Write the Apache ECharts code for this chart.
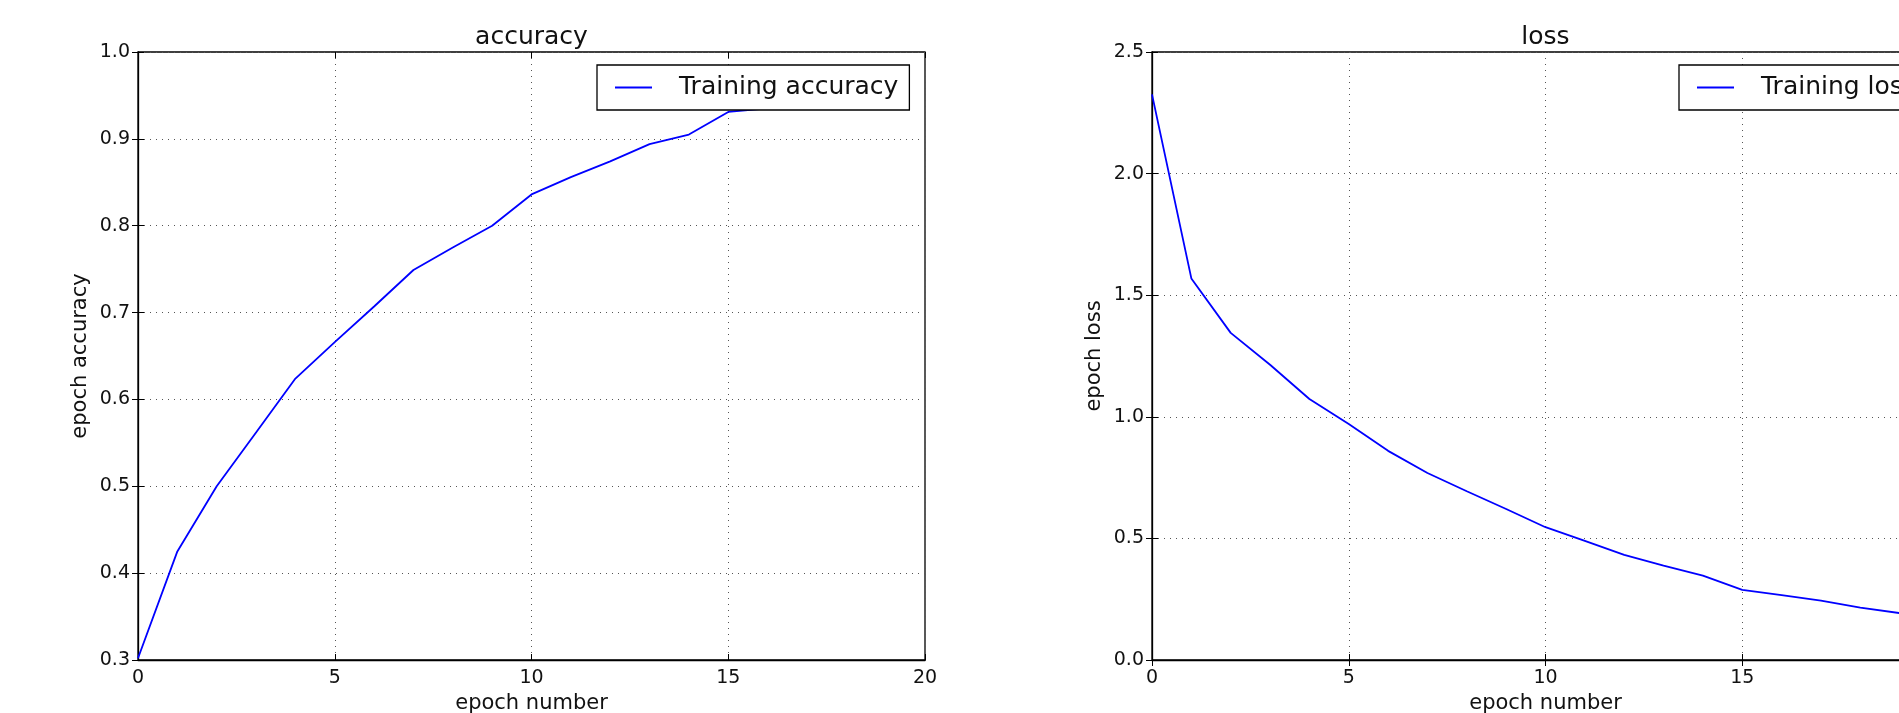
<!DOCTYPE html>
<html>
<head>
<meta charset="utf-8">
<script src="https://cdn.jsdelivr.net/npm/echarts@6/dist/echarts.min.js"></script>
<style>
html,body{margin:0;padding:0;background:#fff;}
#c{width:1899px;height:713px;}
</style>
</head>
<body>
<div id="c"></div>
<script>
// ---- data ----
var epochs = [0,1,2,3,4,5,6,7,8,9,10,11,12,13,14,15,16,17,18,19];
var accuracy = [0.302,0.425,0.500,0.562,0.624,0.666,0.707,0.749,0.775,0.800,0.836,0.856,0.874,0.894,0.905,0.931,0.935,0.945,0.952,0.960];
var loss = [2.326,1.569,1.345,1.214,1.073,0.970,0.860,0.769,0.694,0.621,0.546,0.490,0.432,0.388,0.347,0.288,0.267,0.244,0.215,0.193];
var titles = ['accuracy','loss'];
var yNames = ['epoch accuracy','epoch loss'];
var xName = 'epoch number';
var legendNames = ['Training accuracy','Training loss'];
var xTicks = {min:0, max:20, interval:5};
var accTicks = {min:0.3, max:1.0, interval:0.1};
var lossTicks = {min:0.0, max:2.5, interval:0.5};

var FONT = 'DejaVu Sans';
var TXT = '#111';

function pairs(xs, ys){ return xs.map(function(x,i){ return [x, ys[i]]; }); }

var grids = [
  {left:138, top:52, width:787, height:608},
  {left:1152, top:52, width:787, height:608}
];
grids.forEach(function(g){
  g.show = true; g.borderColor = '#000'; g.borderWidth = 1.3;
  g.backgroundColor = 'transparent'; g.containLabel = false; g.outerBoundsMode = 'none';
});

var gridLine = {show:true, lineStyle:{color:'#555', width:1, type:[1,5]}};
var tick = {show:true, inside:true, length:6, lineStyle:{color:'#000', width:1}};

function xMain(gi){
  return {type:'value', gridIndex:gi, position:'bottom', min:xTicks.min, max:xTicks.max, interval:xTicks.interval,
    name:xName, nameLocation:'middle', nameGap:33,
    nameTextStyle:{fontFamily:FONT, fontSize:21, color:TXT},
    axisLine:{show:true, lineStyle:{color:'#000', width:1.3}},
    axisTick:tick, splitLine:gridLine,
    axisLabel:{show:true, margin:9, fontFamily:FONT, fontSize:19, color:TXT, formatter:function(v){return String(Math.round(v));}}};
}
function xTop(gi){
  return {type:'value', gridIndex:gi, position:'top', min:xTicks.min, max:xTicks.max, interval:xTicks.interval,
    axisLine:{show:false}, axisTick:tick, splitLine:{show:false}, axisLabel:{show:false}};
}
function yMain(gi, t, nm){
  return {type:'value', gridIndex:gi, position:'left', min:t.min, max:t.max, interval:t.interval,
    name:nm, nameLocation:'middle', nameGap:47,
    nameTextStyle:{fontFamily:FONT, fontSize:21, color:TXT},
    axisLine:{show:true, lineStyle:{color:'#000', width:1.3}},
    axisTick:tick, splitLine:gridLine,
    axisLabel:{show:true, margin:8, fontFamily:FONT, fontSize:19, color:TXT, formatter:function(v){return v.toFixed(1);}}};
}
function yRight(gi, t){
  return {type:'value', gridIndex:gi, position:'right', min:t.min, max:t.max, interval:t.interval,
    axisLine:{show:false}, axisTick:tick, splitLine:{show:false}, axisLabel:{show:false}};
}

function legendAt(left, name){
  return {show:true, data:[name], left:left, top:65, orient:'horizontal',
    icon:'rect', itemWidth:37, itemHeight:2,
    padding:[10,11,10,18], backgroundColor:'#fff', borderColor:'#000', borderWidth:1.3, borderRadius:0,
    selectedMode:false,
    textStyle:{fontFamily:FONT, fontSize:25, color:TXT, padding:[0,0,0,22]}};
}

var option = {
  animation:false,
  backgroundColor:'#fff',
  title:[
    {text:titles[0], left:531.5, top:25, textAlign:'center', padding:0, textStyle:{fontFamily:FONT, fontSize:25, fontWeight:'normal', color:TXT}},
    {text:titles[1], left:1545.5, top:25, textAlign:'center', padding:0, textStyle:{fontFamily:FONT, fontSize:25, fontWeight:'normal', color:TXT}}
  ],
  legend:[legendAt(597, legendNames[0]), legendAt(1679, legendNames[1])],
  grid:grids,
  xAxis:[xMain(0), xTop(0), xMain(1), xTop(1)],
  yAxis:[yMain(0, accTicks, yNames[0]), yRight(0, accTicks), yMain(1, lossTicks, yNames[1]), yRight(1, lossTicks)],
  series:[
    {name:legendNames[0], type:'line', xAxisIndex:0, yAxisIndex:0, data:pairs(epochs, accuracy),
      symbol:'none', showSymbol:false, color:'#0000ff', lineStyle:{color:'#0000ff', width:1.8}, z:2},
    {name:legendNames[1], type:'line', xAxisIndex:2, yAxisIndex:2, data:pairs(epochs, loss),
      symbol:'none', showSymbol:false, color:'#0000ff', lineStyle:{color:'#0000ff', width:1.8}, z:2}
  ]
};
var chart = echarts.init(document.getElementById('c'), null, {renderer:'canvas'});
chart.setOption(option);
</script>
</body>
</html>
